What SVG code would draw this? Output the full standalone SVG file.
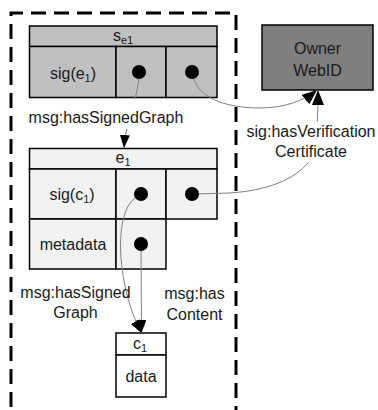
<svg xmlns="http://www.w3.org/2000/svg" width="378" height="410" viewBox="0 0 378 410">
<style>
text{font-family:"Liberation Sans",Arial,sans-serif;font-size:16px;fill:#1a1a1a;text-anchor:middle}
.sub{font-size:11px}
.cell{stroke:#000;stroke-width:1.5}
.dot{fill:#000}
.conn{fill:none;stroke:#808080;stroke-width:1}
.bg{fill:#fff}
</style>
<defs>
<marker id="ah" markerUnits="userSpaceOnUse" markerWidth="14" markerHeight="12" refX="13" refY="5" orient="auto">
<path d="M0,0 L13,5 L0,10 Z" fill="#000"/>
</marker>
<marker id="ahb" markerUnits="userSpaceOnUse" markerWidth="16" markerHeight="14" refX="15" refY="6" orient="auto">
<path d="M0,0 L15,6 L0,12 Z" fill="#000"/>
</marker>
</defs>
<rect x="0" y="0" width="378" height="410" fill="#fff"/>
<path d="M11,430 V13 H236 V430" fill="none" stroke="#000" stroke-width="3" stroke-dasharray="15 8"/>

<g id="se1">
<rect class="cell" x="29.5" y="26" width="187.5" height="20.5" fill="#c0c0c0"/>
<rect class="cell" x="29.5" y="46.5" width="86.5" height="51" fill="#c0c0c0"/>
<rect class="cell" x="116" y="46.5" width="50" height="51" fill="#c0c0c0"/>
<rect class="cell" x="166" y="46.5" width="51" height="51" fill="#c0c0c0"/>
<text x="123" y="41">s<tspan class="sub" dy="3">e1</tspan></text>
<text x="73" y="79">sig(e<tspan class="sub" dy="3">1</tspan><tspan dy="-3">)</tspan></text>
<circle class="dot" cx="139" cy="72" r="7"/>
<circle class="dot" cx="192" cy="72" r="7"/>
</g>

<g id="e1">
<rect class="cell" x="29.5" y="148.5" width="187.5" height="20.5" fill="#f2f2f2"/>
<rect class="cell" x="29.5" y="169" width="86.5" height="50" fill="#f2f2f2"/>
<rect class="cell" x="116" y="169" width="50" height="50" fill="#f2f2f2"/>
<rect class="cell" x="166" y="169" width="51" height="50" fill="#f2f2f2"/>
<rect class="cell" x="29.5" y="219" width="86.5" height="50" fill="#f2f2f2"/>
<rect class="cell" x="116" y="219" width="50" height="50" fill="#f2f2f2"/>
<text x="123" y="163">e<tspan class="sub" dy="3">1</tspan></text>
<text x="72" y="200">sig(c<tspan class="sub" dy="3">1</tspan><tspan dy="-3">)</tspan></text>
<text x="73" y="250">metadata</text>
<circle class="dot" cx="141" cy="194" r="7"/>
<circle class="dot" cx="192" cy="194" r="7"/>
<circle class="dot" cx="141" cy="244" r="7"/>
</g>

<g id="c1">
<rect class="cell" x="116" y="333" width="50" height="22" fill="#fff"/>
<rect class="cell" x="116" y="355" width="50" height="42" fill="#fff"/>
<text x="140" y="349">c<tspan class="sub" dy="3">1</tspan></text>
<text x="141" y="382">data</text>
</g>

<g id="owner-webid">
<rect x="262" y="25" width="111" height="65" fill="#7f7f7f" stroke="#000" stroke-width="1.5"/>
<text x="317.5" y="54">Owner</text>
<text x="317.5" y="76">WebID</text>
</g>

<g id="connectors">
<path class="conn" d="M138.8,79 C137,100 126,120 124,148" marker-end="url(#ah)"/>
<path class="conn" d="M135.2,197.9 C112,214 118,290 141.5,333" marker-end="url(#ah)"/>
<path class="conn" d="M141,251 L141.5,333" marker-end="url(#ah)"/>
<path class="conn" d="M193.9,78.7 C200,100 230,108 260,108 C285,108 305,100 317,90" marker-end="url(#ahb)"/>
<path class="conn" d="M199,193.9 L230,193 C275,190 300,175 310,160 C318,140 318,110 318,90" marker-end="url(#ahb)"/>
</g>

<g id="label-hasSignedGraph">
<rect class="bg" x="27" y="99" width="160" height="30"/>
<text x="106" y="123">msg:hasSignedGraph</text>
</g>
<g id="label-hasVerificationCertificate">
<rect class="bg" x="245" y="122" width="132" height="40"/>
<text x="311" y="137">sig:hasVerification</text>
<text x="311" y="157">Certificate</text>
</g>
<g id="label-hasSignedGraph2">
<text x="75.5" y="298">msg:hasSigned</text>
<text x="75.5" y="318">Graph</text>
</g>
<g id="label-hasContent">
<text x="194.5" y="299">msg:has</text>
<text x="194.5" y="320">Content</text>
</g>
</svg>
